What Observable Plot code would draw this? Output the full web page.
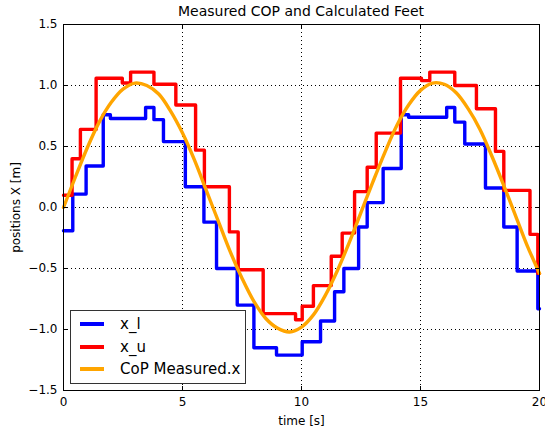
<!DOCTYPE html>
<html>
<head>
<meta charset="utf-8">
<script src="https://cdn.jsdelivr.net/npm/d3@7"></script>
<script src="https://cdn.jsdelivr.net/npm/@observablehq/plot@0.6"></script>
<style>
  body { margin: 0; background: #fff; font-family: "DejaVu Sans", sans-serif; }
  #wrap { position: relative; width: 545px; height: 430px; }
  #title { height: 19px; line-height: 22px; font-size: 14px; text-align: center; padding-left: 63px; padding-right: 6px; color: #000; overflow: visible; }
  #legend { position: absolute; left: 70px; top: 310px; width: 174px; height: 72px; background: #fff; border: 1px solid #333; font-size: 15px; }
  .row { position: absolute; left: 0; height: 22px; line-height: 22px; }
  .sw { position: absolute; left: 9px; top: 9px; width: 24px; height: 4px; }
  .lab { position: absolute; left: 49px; top: 0; white-space: nowrap; }
</style>
</head>
<body>
<div id="wrap">
  <div id="title">Measured COP and Calculated Feet</div>
  <div id="chart"></div>
  <div id="legend"></div>
</div>
<script>
// Lower foot bound x_l (step-after): change times and values
const xlTime = [0, 0.39, 0.95, 1.67, 1.97, 3.45, 3.8, 4.2, 5.12, 5.9, 6.43, 7.3, 8.0, 8.95, 10.03, 10.8, 11.39, 11.78, 12.4, 12.76, 13.43, 14.19, 14.5, 16.1, 16.44, 16.86, 17.73, 18.5, 19.06, 19.93, 20];
const xlVal  = [-0.19, 0.11, 0.34, 0.76, 0.73, 0.82, 0.72, 0.54, 0.17, -0.12, -0.50, -0.80, -1.15, -1.21, -1.10, -0.93, -0.69, -0.50, -0.16, 0.04, 0.32, 0.76, 0.74, 0.82, 0.70, 0.52, 0.16, -0.16, -0.52, -0.83, -0.83];

// Upper foot bound x_u (step-after)
const xuTime = [0, 0.36, 0.71, 1.37, 2.47, 2.82, 3.8, 4.72, 5.55, 5.92, 6.97, 7.34, 8.39, 9.75, 10.03, 10.5, 11.25, 11.71, 12.23, 12.76, 13.14, 14.16, 15.04, 15.39, 16.44, 17.35, 18.15, 18.5, 19.6, 19.93, 20];
const xuVal  = [0.10, 0.40, 0.64, 1.06, 1.02, 1.11, 1.01, 0.84, 0.47, 0.17, -0.20, -0.51, -0.87, -0.92, -0.81, -0.64, -0.40, -0.21, 0.13, 0.33, 0.61, 1.06, 1.04, 1.11, 1.00, 0.81, 0.46, 0.14, -0.22, -0.54, -0.54];

// Measured CoP x, read at 0.5 s intervals
const copTime = [0, 0.5, 1, 1.5, 2, 2.5, 3, 3.5, 4, 4.5, 5, 5.5, 6, 6.5, 7, 7.5, 8, 8.5, 9, 9.5, 10, 10.5, 11, 11.5, 12, 12.5, 13, 13.5, 14, 14.5, 15, 15.5, 16, 16.5, 17, 17.5, 18, 18.5, 19, 19.5, 20];
const copVal  = [0.00, 0.25, 0.49, 0.70, 0.86, 0.97, 1.02, 1.00, 0.93, 0.79, 0.61, 0.39, 0.14, -0.11, -0.36, -0.58, -0.77, -0.91, -0.99, -1.02, -0.98, -0.88, -0.72, -0.52, -0.29, -0.04, 0.21, 0.45, 0.67, 0.84, 0.96, 1.02, 1.01, 0.94, 0.81, 0.64, 0.42, 0.18, -0.07, -0.32, -0.54];

const xTicks = [0, 5, 10, 15, 20];
const yTicks = [-1.5, -1.0, -0.5, 0.0, 0.5, 1.0, 1.5];

const seriesNames = ["x_l", "x_u", "CoP Measured.x"];
const seriesColors = ["#0000ff", "#ff0000", "#ffa500"];

const xl = xlTime.map((t, i) => ({t, v: xlVal[i]}));
const xu = xuTime.map((t, i) => ({t, v: xuVal[i]}));
const cop = copTime.map((t, i) => ({t, v: copVal[i]}));

// inner tick marks on all four sides, drawn with the plot's scales
function innerTicks(index, scales, values, dims) {
  const g = d3.create("svg:g").attr("stroke", "#000").attr("stroke-width", 1);
  const top = dims.marginTop, bottom = dims.height - dims.marginBottom;
  const left = dims.marginLeft, right = dims.width - dims.marginRight;
  const L = 4;
  for (const v of xTicks) {
    const x = Math.round(scales.x(v)) + 0.5;
    g.append("line").attr("x1", x).attr("x2", x).attr("y1", bottom).attr("y2", bottom - L);
    g.append("line").attr("x1", x).attr("x2", x).attr("y1", top).attr("y2", top + L);
  }
  for (const v of yTicks) {
    const y = Math.round(scales.y(v)) + 0.5;
    g.append("line").attr("y1", y).attr("y2", y).attr("x1", left).attr("x2", left + L);
    g.append("line").attr("y1", y).attr("y2", y).attr("x1", right).attr("x2", right - L);
  }
  return g.node();
}

const chart = Plot.plot({
  width: 545,
  height: 411,
  marginTop: 5,
  marginBottom: 40,
  marginLeft: 63,
  marginRight: 6,
  style: { fontFamily: "DejaVu Sans, sans-serif", fontSize: "12px", color: "#000", background: "#fff", overflow: "visible" },
  x: { domain: [0, 20] },
  y: { domain: [-1.5, 1.5] },
  marks: [
    Plot.gridX(xTicks, { stroke: "#000", strokeOpacity: 1, strokeDasharray: "1,3", strokeWidth: 1 }),
    Plot.gridY(yTicks, { stroke: "#000", strokeOpacity: 1, strokeDasharray: "1,3", strokeWidth: 1 }),
    Plot.axisX(xTicks, { tickSize: 0, tickPadding: 7, tickFormat: d => String(d), fontSize: 12,
      label: "time [s]", labelAnchor: "center", labelOffset: 34, labelArrow: "none" }),
    Plot.axisY(yTicks, { tickSize: 0, tickPadding: 6, tickFormat: d3.format(".1f"), fontSize: 12,
      label: "positions X [m]", labelAnchor: "center", labelOffset: 52, labelArrow: "none" }),
    Plot.line(xl, { x: "t", y: "v", curve: "step-after", stroke: seriesColors[0], strokeWidth: 3.4 }),
    Plot.line(xu, { x: "t", y: "v", curve: "step-after", stroke: seriesColors[1], strokeWidth: 3.4 }),
    Plot.line(cop, { x: "t", y: "v", curve: "catmull-rom", stroke: seriesColors[2], strokeWidth: 3.4 }),
    innerTicks,
    Plot.frame({ stroke: "#000", strokeWidth: 1 })
  ]
});
document.getElementById("chart").appendChild(chart);

// legend
const leg = document.getElementById("legend");
seriesNames.forEach((name, i) => {
  const row = document.createElement("div");
  row.className = "row";
  row.style.top = (2 + i * 22.5) + "px";
  row.style.width = "100%";
  const sw = document.createElement("div");
  sw.className = "sw";
  sw.style.background = seriesColors[i];
  const lab = document.createElement("div");
  lab.className = "lab";
  lab.textContent = name;
  row.appendChild(sw);
  row.appendChild(lab);
  leg.appendChild(row);
});
</script>
</body>
</html>
